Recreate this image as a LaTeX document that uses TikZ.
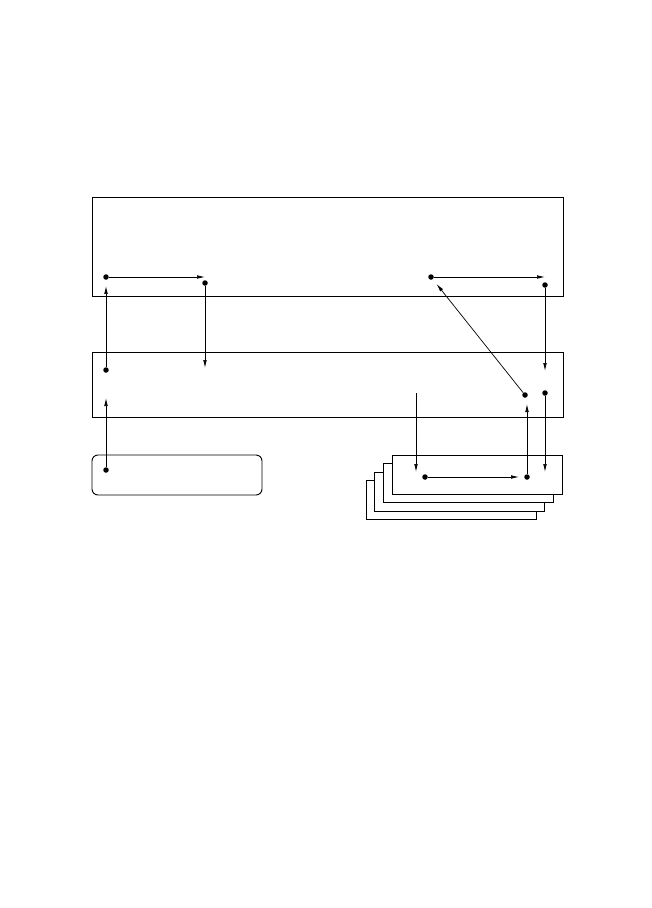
\documentclass[tikz,border=0pt]{standalone}
\usetikzlibrary{arrows.meta}
\begin{document}
\begin{tikzpicture}[x=1pt,y=-1pt]
  \tikzstyle{box}=[draw, line width=0.9pt, inner sep=0pt, fill=white]
  \tikzstyle{dot}=[circle, fill, inner sep=0pt, minimum size=5.5pt]
  \tikzstyle{link}=[-{Latex[length=8pt,width=3.6pt]}, line width=0.7pt]
  \useasboundingbox (0,0) rectangle (651,908);
  % layers
  \node[box, minimum width=471pt, minimum height=99pt] (Top) at (327.5,246.5) {};
  \node[box, minimum width=471pt, minimum height=65pt] (Mid) at (327.5,384.5) {};
  \node[box, rounded corners=6pt, minimum width=170pt, minimum height=40pt] (Store) at (177,475) {};
  \foreach \i in {3,2,1}
    \node[box, minimum width=170pt, minimum height=39pt] (Page\i) at (477.5-8.8*\i,475+8.4*\i) {};
  \node[box, minimum width=170pt, minimum height=39pt] (Page0) at (477.5,475) {};
  % points
  \node[dot] (A1) at (106,277) {};
  \node[dot] (A2) at (205,283) {};
  \node[dot] (A3) at (431,277) {};
  \node[dot] (A4) at (545,285) {};
  \node[dot] (B1) at (106,370) {};
  \node[dot] (B2) at (525,395) {};
  \node[dot] (B3) at (545,393) {};
  \node[dot] (C1) at (106,470) {};
  \node[dot] (D1) at (425,477) {};
  \node[dot] (D2) at (527,477) {};
  \coordinate (A1end) at (205,277);
  \coordinate (A2end) at (205,368);
  \coordinate (A3end) at (545,277);
  \coordinate (A4end) at (545,371);
  \coordinate (C1end) at (106,398);
  \coordinate (B3end) at (545,472);
  \coordinate (Ein) at (416,393);
  \coordinate (Eout) at (416,472);
  \coordinate (D1end) at (519,477);
  \coordinate (D2end) at (527,404);
  % arrows
  \draw[link] (A1) -- (A1end);
  \draw[link] (A2) -- (A2end);
  \draw[link] (A3) -- (A3end);
  \draw[link] (A4) -- (A4end);
  \draw[link, shorten >=6pt] (B1) -- (A1);
  \draw[link] (C1) -- (C1end);
  \draw[link, shorten >=6pt] (B2) -- (A3);
  \draw[link] (B3) -- (B3end);
  \draw[link] (Ein) -- (Eout);
  \draw[link] (D1) -- (D1end);
  \draw[link] (D2) -- (D2end);
\end{tikzpicture}
\end{document}
